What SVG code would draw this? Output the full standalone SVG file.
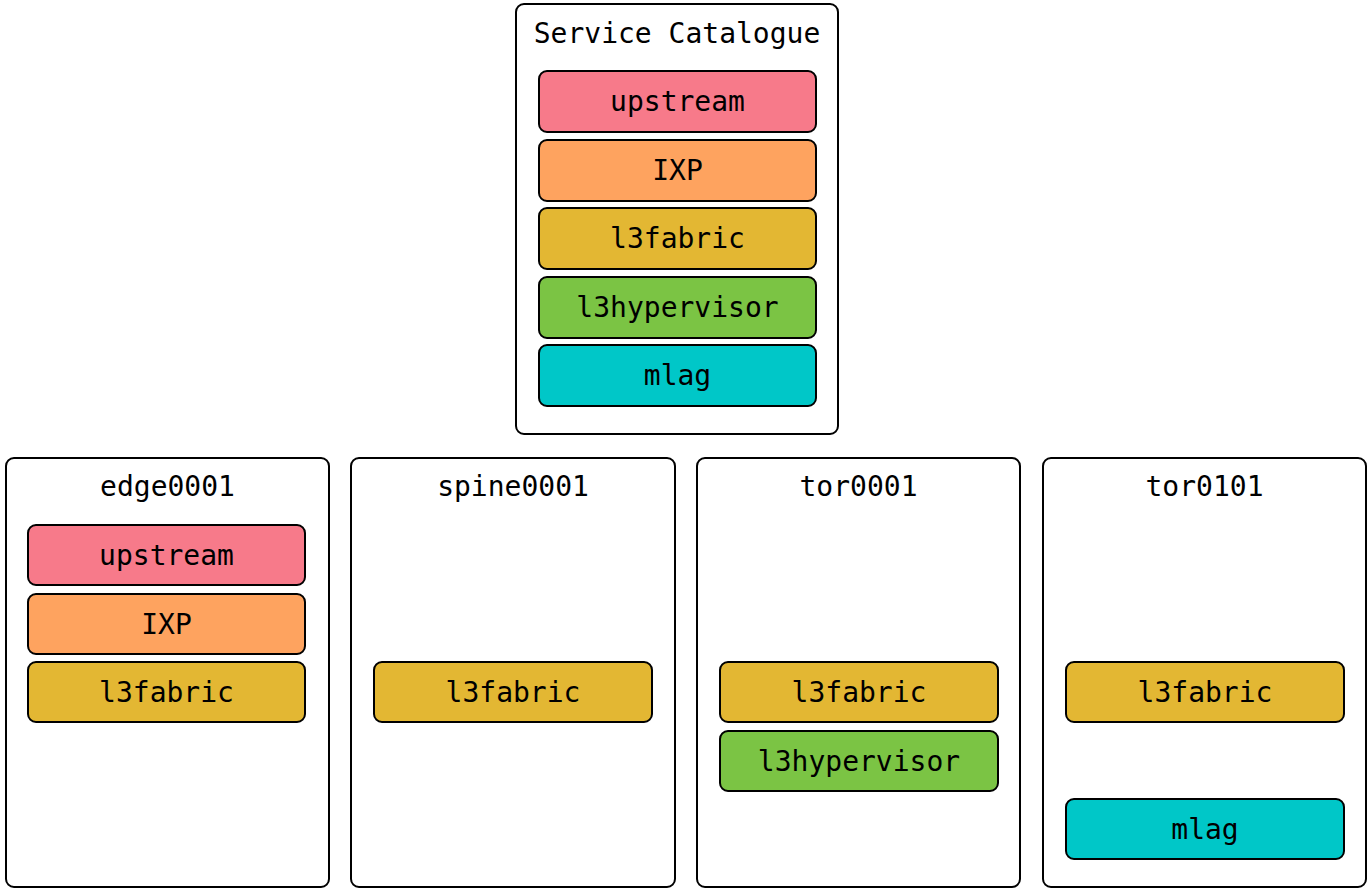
<svg xmlns="http://www.w3.org/2000/svg" width="1372" height="894" viewBox="0 0 1372 894">
  <style>
    .frame { fill: #ffffff; stroke: #000000; stroke-width: 2; }
    .svc { stroke: #000000; stroke-width: 2; }
    .title, .label { font-family: "DejaVu Sans Mono", "Liberation Mono", monospace; font-size: 28px; fill: #000000; text-anchor: middle; }
    .upstream { fill: #f77a8a; }
    .ixp { fill: #fea35f; }
    .l3fabric { fill: #e3b733; }
    .l3hypervisor { fill: #7bc444; }
    .mlag { fill: #00c7c8; }
  </style>
  <rect width="1372" height="894" fill="#ffffff"/>

  <!-- Service catalogue -->
  <g id="catalogue">
    <rect class="frame" x="516" y="4" width="322" height="430" rx="8"/>
    <text class="title" x="677" y="43">Service Catalogue</text>
    <rect class="svc upstream" x="539" y="71" width="277" height="61" rx="8"/>
    <text class="label" x="677.5" y="111">upstream</text>
    <rect class="svc ixp" x="539" y="140" width="277" height="61" rx="8"/>
    <text class="label" x="677.5" y="180">IXP</text>
    <rect class="svc l3fabric" x="539" y="208" width="277" height="61" rx="8"/>
    <text class="label" x="677.5" y="248">l3fabric</text>
    <rect class="svc l3hypervisor" x="539" y="277" width="277" height="61" rx="8"/>
    <text class="label" x="677.5" y="317">l3hypervisor</text>
    <rect class="svc mlag" x="539" y="345" width="277" height="61" rx="8"/>
    <text class="label" x="677.5" y="385">mlag</text>
  </g>

  <!-- Devices -->
  <g id="edge0001">
    <rect class="frame" x="6" y="458" width="323" height="429" rx="8"/>
    <text class="title" x="167.5" y="496">edge0001</text>
    <rect class="svc upstream" x="28" y="525" width="277" height="60" rx="8"/>
    <text class="label" x="166.5" y="565">upstream</text>
    <rect class="svc ixp" x="28" y="594" width="277" height="60" rx="8"/>
    <text class="label" x="166.5" y="634">IXP</text>
    <rect class="svc l3fabric" x="28" y="662" width="277" height="60" rx="8"/>
    <text class="label" x="166.5" y="702">l3fabric</text>
  </g>

  <g id="spine0001">
    <rect class="frame" x="351" y="458" width="324" height="429" rx="8"/>
    <text class="title" x="513" y="496">spine0001</text>
    <rect class="svc l3fabric" x="374" y="662" width="278" height="60" rx="8"/>
    <text class="label" x="513" y="702">l3fabric</text>
  </g>

  <g id="tor0001">
    <rect class="frame" x="697" y="458" width="323" height="429" rx="8"/>
    <text class="title" x="858.5" y="496">tor0001</text>
    <rect class="svc l3fabric" x="720" y="662" width="278" height="60" rx="8"/>
    <text class="label" x="859" y="702">l3fabric</text>
    <rect class="svc l3hypervisor" x="720" y="731" width="278" height="60" rx="8"/>
    <text class="label" x="859" y="771">l3hypervisor</text>
  </g>

  <g id="tor0101">
    <rect class="frame" x="1043" y="458" width="323" height="429" rx="8"/>
    <text class="title" x="1204.5" y="496">tor0101</text>
    <rect class="svc l3fabric" x="1066" y="662" width="278" height="60" rx="8"/>
    <text class="label" x="1205" y="702">l3fabric</text>
    <rect class="svc mlag" x="1066" y="799" width="278" height="60" rx="8"/>
    <text class="label" x="1205" y="839">mlag</text>
  </g>

  <g id="connectors"/>
</svg>
